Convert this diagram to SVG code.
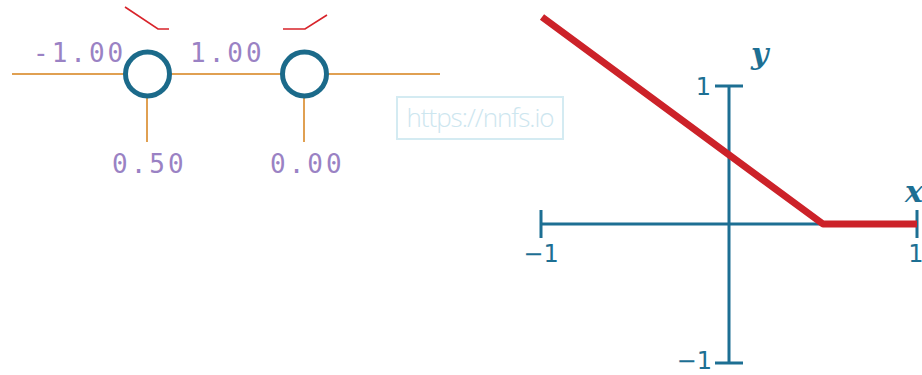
<svg xmlns="http://www.w3.org/2000/svg" width="922" height="375" viewBox="0 0 922 375">
<style>
.wire{stroke:#e0a052;stroke-width:2;fill:none}
.node{fill:none;stroke:#1b6a8a;stroke-width:5}
.num{font-family:"DejaVu Sans Mono",monospace;font-size:26px;fill:#9a82c4;letter-spacing:3px}
.relu{stroke:#d8232a;stroke-width:1.6;fill:none}
.axis{stroke:#1d6f93;stroke-width:3;fill:none}
.lab{font-family:"DejaVu Sans",sans-serif;font-size:24px;fill:#1d6f93}
.var{font-family:"DejaVu Serif",serif;font-style:italic;font-weight:bold;font-size:30px;fill:#1d6f93}
</style>
<rect width="922" height="375" fill="#ffffff"/>
<g id="connectors">
<line class="wire" x1="12" y1="74" x2="125" y2="74"/>
<line class="wire" x1="170" y1="74" x2="281" y2="74"/>
<line class="wire" x1="327" y1="74" x2="440" y2="74"/>
<line class="wire" x1="147" y1="97" x2="147" y2="142"/>
<line class="wire" x1="304" y1="97" x2="304" y2="142"/>
</g>
<g id="neuron1">
<circle class="node" cx="147.5" cy="74" r="22"/>
<polyline class="relu" points="125,7 158,29 169,29"/>
</g>
<g id="neuron2">
<circle class="node" cx="304.5" cy="74" r="22"/>
<polyline class="relu" points="283,29 305,29 327,15"/>
</g>
<g id="labels">
<text class="num" x="33" y="62">-1.00</text>
<text class="num" x="190" y="62">1.00</text>
<text class="num" x="112" y="173">0.50</text>
<text class="num" x="270" y="173">0.00</text>
</g>
<g id="watermark">
<rect x="397" y="97" width="166" height="42" fill="none" stroke="#d4ebf2" stroke-width="2"/>
<text x="480" y="127" text-anchor="middle" font-family="'Open Sans',sans-serif" font-weight="300" font-size="26" fill="#cde6ef" letter-spacing="-1">https://nnfs.io</text>
</g>
<g id="plot">
<line class="axis" x1="541" y1="224" x2="917" y2="224"/>
<line class="axis" x1="541" y1="210" x2="541" y2="238"/>
<line class="axis" x1="917" y1="210" x2="917" y2="238"/>
<line class="axis" x1="729" y1="86" x2="729" y2="363"/>
<line class="axis" x1="715" y1="86" x2="743" y2="86"/>
<line class="axis" x1="715" y1="363" x2="743" y2="363"/>
<polyline points="542,17 823,224 917,224" fill="none" stroke="#cc2229" stroke-width="7" stroke-linejoin="round"/>
<text class="lab" x="711" y="95" text-anchor="end">1</text>
<text class="lab" x="541" y="262" text-anchor="middle">−1</text>
<text class="lab" x="916" y="262" text-anchor="middle">1</text>
<text class="lab" x="712" y="369" text-anchor="end">−1</text>
<text class="var" x="751" y="64">y</text>
<text class="var" x="905" y="202">x</text>
</g>
</svg>
